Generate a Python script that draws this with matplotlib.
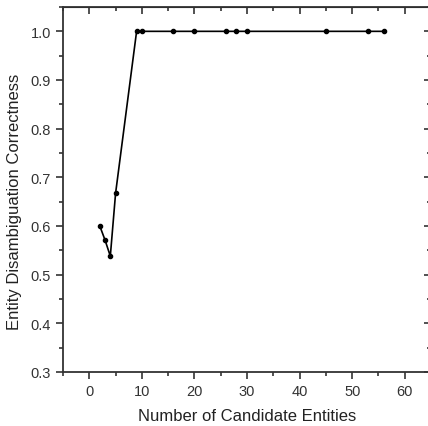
import matplotlib
matplotlib.use('Agg')
import matplotlib.pyplot as plt
from matplotlib.ticker import MultipleLocator

plt.rcParams['font.family'] = ['Liberation Sans', 'DejaVu Sans']

# data
candidates = [2, 3, 4, 5, 9, 10, 16, 20, 26, 28, 30, 45, 53, 56]
correctness = [0.6, 0.571, 0.538, 0.667, 1.0, 1.0, 1.0, 1.0, 1.0, 1.0, 1.0, 1.0, 1.0, 1.0]

fig = plt.figure(figsize=(4.28, 4.27), dpi=100)
ax = fig.add_axes([63 / 428, 1 - 373 / 427, (431 - 63) / 428, (373 - 8) / 427])

ax.plot(candidates, correctness, color='black', linewidth=1.2,
        marker='o', markersize=3)

ax.set_xlim(-5, 65)
ax.set_ylim(0.3, 1.05)
ax.xaxis.set_major_locator(MultipleLocator(10))
ax.xaxis.set_minor_locator(MultipleLocator(5))
ax.yaxis.set_major_locator(MultipleLocator(0.1))
ax.yaxis.set_minor_locator(MultipleLocator(0.05))
ax.yaxis.set_major_formatter(plt.FuncFormatter(lambda v, p: f'{v:.1f}'))

for s in ax.spines.values():
    s.set_linewidth(1.3)
    s.set_color('#333333')

ax.tick_params(which='both', direction='out', top=False, right=False,
               color='#333333', width=1.2, labelsize=10.5, labelcolor='#333333')
ax.tick_params(which='major', length=5)
ax.tick_params(which='minor', length=3)

# inward ticks on top and right
ax2 = ax.secondary_xaxis('top')
ax2.xaxis.set_major_locator(MultipleLocator(10))
ax2.xaxis.set_minor_locator(MultipleLocator(5))
ax2.tick_params(which='both', direction='in', labeltop=False, color='#333333', width=1.2)
ax2.tick_params(which='major', length=5)
ax2.tick_params(which='minor', length=3)
ax3 = ax.secondary_yaxis('right')
ax3.yaxis.set_major_locator(MultipleLocator(0.1))
ax3.yaxis.set_minor_locator(MultipleLocator(0.05))
ax3.tick_params(which='both', direction='in', labelright=False, color='#333333', width=1.2)
ax3.tick_params(which='major', length=5)
ax3.tick_params(which='minor', length=3)

ax.set_xlabel('Number of Candidate Entities', fontsize=12, color='#222222', labelpad=7)
ax.set_ylabel('Entity Disambiguation Correctness', fontsize=12, color='#222222', labelpad=6)
ax.yaxis.label.set_y(0.47)

fig.savefig('out.png', dpi=100)
